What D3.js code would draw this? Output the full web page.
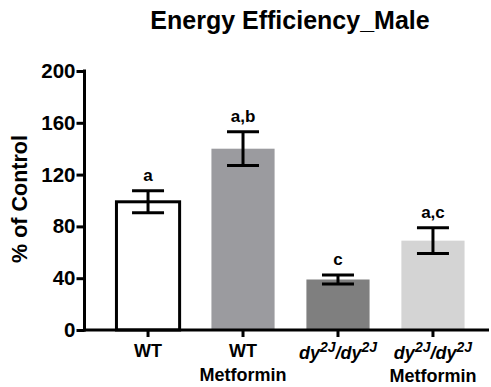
<!DOCTYPE html>
<html>
<head>
<meta charset="utf-8">
<script src="https://cdn.jsdelivr.net/npm/d3@7/dist/d3.min.js"></script>
<style>
  html, body { margin: 0; padding: 0; background: #fff; }
  svg { display: block; font-family: Arial, "Liberation Sans", sans-serif; }
</style>
</head>
<body>
<svg id="chart" width="491" height="387"></svg>
<script>
// Group data: mean % of control, SEM, significance letters, fill
const groups = ["WT", "WT Metformin", "dy", "dy Metformin"];
const means = [99, 140, 39, 69];
const sems = [8.5, 13, 3.5, 10];
const letters = ["a", "a,b", "c", "a,c"];
const fills = ["#ffffff", "#9b9b9f", "#7f7f7f", "#d4d4d4"];
const yTicks = [0, 40, 80, 120, 160, 200];

const svg = d3.select("#chart");
const axisX = 84.5, baseY = 330;

const y = d3.scaleLinear().domain([0, 200]).range([baseY, 71]);
const x = d3.scaleBand().domain(groups).range([100.5, 480.5]).paddingInner(0.335).paddingOuter(0.168);

// bars
svg.selectAll("rect.bar").data(groups).enter().append("rect")
  .attr("class", "bar")
  .attr("x", d => x(d))
  .attr("width", x.bandwidth())
  .attr("y", (d, i) => y(means[i]))
  .attr("height", (d, i) => y(0) - y(means[i]))
  .attr("fill", (d, i) => fills[i])
  .attr("stroke", (d, i) => i === 0 ? "#000" : "none")
  .attr("stroke-width", 3);

// error bars
const eb = svg.selectAll("g.err").data(groups).enter().append("g").attr("class", "err");
eb.append("line")
  .attr("x1", d => x(d) + x.bandwidth() / 2).attr("x2", d => x(d) + x.bandwidth() / 2)
  .attr("y1", (d, i) => y(means[i] - sems[i])).attr("y2", (d, i) => y(means[i] + sems[i]))
  .attr("stroke", "#000").attr("stroke-width", 3);
[1, -1].forEach(s => {
  eb.append("line")
    .attr("x1", d => x(d) + x.bandwidth() / 2 - 16).attr("x2", d => x(d) + x.bandwidth() / 2 + 16)
    .attr("y1", (d, i) => y(means[i] + s * sems[i])).attr("y2", (d, i) => y(means[i] + s * sems[i]))
    .attr("stroke", "#000").attr("stroke-width", 3);
});

// significance letters
svg.selectAll("text.sig").data(groups).enter().append("text")
  .attr("class", "sig")
  .attr("x", d => x(d) + x.bandwidth() / 2)
  .attr("y", (d, i) => y(means[i] + sems[i]) - 10)
  .attr("text-anchor", "middle")
  .attr("font-weight", "bold").attr("font-size", 17)
  .text((d, i) => letters[i]);

// y axis
const yAxis = d3.axisLeft(y).tickValues(yTicks).tickSize(8).tickPadding(1);
const gy = svg.append("g").attr("transform", `translate(${axisX},0)`).call(yAxis);
gy.select(".domain").attr("stroke-width", 3).attr("d", `M0,${y(200) - 1.5}V${baseY + 1.5}`);
gy.selectAll(".tick line").attr("stroke-width", 3);
gy.selectAll(".tick text").attr("font-size", 20.5).attr("font-weight", "bold")
  .attr("font-family", "Arial, 'Liberation Sans', sans-serif").attr("fill", "#000");

// x axis
const xAxis = d3.axisBottom(x).tickSize(7).tickFormat("");
const gx = svg.append("g").attr("transform", `translate(0,${baseY})`).call(xAxis);
gx.select(".domain").attr("stroke-width", 3).attr("d", `M${axisX - 1.5},0H489`);
gx.selectAll(".tick line").attr("stroke-width", 3);

// x labels
const lab = svg.append("g").attr("font-weight", "bold").attr("font-size", 18).attr("text-anchor", "middle");
function cx(g) { return x(g) + x.bandwidth() / 2; }
lab.append("text").attr("x", cx("WT")).attr("y", 357).text("WT");
lab.append("text").attr("x", cx("WT Metformin")).attr("y", 357).text("WT");
lab.append("text").attr("x", cx("WT Metformin")).attr("y", 381).text("Metformin");
function dyLabel(g, yy) {
  const t = lab.append("text").attr("x", cx(g)).attr("y", yy).attr("font-style", "italic");
  t.append("tspan").text("dy");
  t.append("tspan").attr("dy", -7).attr("font-size", 14).text("2J");
  t.append("tspan").attr("dy", 7).text("/dy");
  t.append("tspan").attr("dy", -7).attr("font-size", 14).text("2J");
}
dyLabel("dy", 359);
dyLabel("dy Metformin", 359);
lab.append("text").attr("x", cx("dy Metformin")).attr("y", 382).text("Metformin");

// axis title
svg.append("text")
  .attr("transform", "translate(27,199) rotate(-90)")
  .attr("text-anchor", "middle").attr("font-weight", "bold").attr("font-size", 21.5)
  .text("% of Control");

// chart title
svg.append("text")
  .attr("x", 290).attr("y", 29).attr("text-anchor", "middle")
  .attr("font-weight", "bold").attr("font-size", 25)
  .text("Energy Efficiency_Male");
</script>
</body>
</html>
